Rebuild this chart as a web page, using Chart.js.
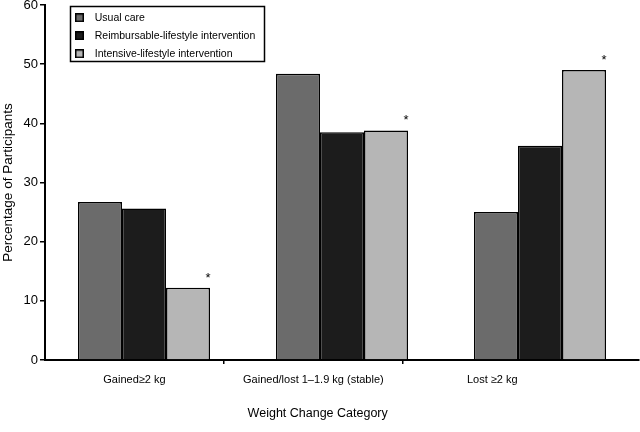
<!DOCTYPE html>
<html>
<head>
<meta charset="utf-8">
<script src="https://cdn.jsdelivr.net/npm/chart.js@4/dist/chart.umd.min.js"></script>
<style>
  html, body { margin: 0; padding: 0; background: #fff; }
  #wrap { width: 640px; height: 432px; position: relative; }
</style>
</head>
<body>
<div id="wrap"><canvas id="c" width="640" height="432"></canvas></div>
<script>
// ---- data ----
const categories = ['Gained\u22652 kg', 'Gained/lost 1\u20131.9 kg (stable)', 'Lost \u22652 kg'];
const seriesNames = ['Usual care', 'Reimbursable-lifestyle intervention', 'Intensive-lifestyle intervention'];
const seriesColors = ['#6b6b6b', '#1c1c1c', '#b6b6b6'];
const usualCare = [26.7, 48.4, 25.0];
const reimbursable = [25.6, 38.5, 36.2];
const intensive = [12.2, 38.8, 49.0];
const intensiveSignificant = [true, true, true];
const yTicks = [0, 10, 20, 30, 40, 50, 60];
const yLabel = 'Percentage of Participants';
const xLabel = 'Weight Change Category';

const FONT = 'Liberation Sans, Arial, Helvetica, sans-serif';

// small square swatches for the legend
function makeSwatch(color) {
  const c = document.createElement('canvas');
  c.width = 9; c.height = 9;
  const g = c.getContext('2d');
  g.fillStyle = '#000';
  g.fillRect(0, 0, 9, 9);
  g.fillStyle = color;
  g.fillRect(1.5, 1.5, 6, 6);
  return c;
}
const swatches = seriesColors.map(makeSwatch);

const legendPlacement = {
  id: 'legendPlacement',
  afterLayout(chart) {
    const lg = chart.legend;
    if (!lg) return;
    const dx = 62 - lg.left, dy = 5 - lg.top;
    lg.left += dx; lg.right += dx; lg.top += dy; lg.bottom += dy;
    (lg.legendHitBoxes || []).forEach(h => { h.left += dx; h.top += dy; });
  },
  afterDraw(chart) {
    const ctx = chart.ctx;
    ctx.save();
    ctx.strokeStyle = '#000';
    ctx.lineWidth = 1.5;
    ctx.strokeRect(70.5, 6.5, 194, 55);
    ctx.restore();
  }
};

const asterisks = {
  id: 'asterisks',
  afterDatasetsDraw(chart) {
    const meta = chart.getDatasetMeta(2);
    const ctx = chart.ctx;
    ctx.save();
    ctx.fillStyle = '#000';
    ctx.font = '13px ' + FONT;
    ctx.textAlign = 'center';
    ctx.textBaseline = 'alphabetic';
    meta.data.forEach((bar, i) => {
      if (!intensiveSignificant[i]) return;
      ctx.fillText('*', bar.x + bar.width / 2 - 2, bar.y - 6);
    });
    ctx.restore();
  }
};

const ds = (label, data, color) => ({
  label, data, xAxisID: 'x', yAxisID: 'y',
  backgroundColor: color, borderColor: '#000', borderWidth: 1.5,
  categoryPercentage: 0.667, barPercentage: 1.0
});

new Chart(document.getElementById('c'), {
  type: 'bar',
  data: {
    labels: categories,
    datasets: [
      ds(seriesNames[0], usualCare, seriesColors[0]),
      ds(seriesNames[1], reimbursable, seriesColors[1]),
      ds(seriesNames[2], intensive, seriesColors[2])
    ]
  },
  options: {
    responsive: false,
    animation: false,
    layout: { padding: { top: 5, right: 1, left: 0, bottom: 0 } },
    plugins: {
      tooltip: { enabled: false },
      legend: {
        position: 'chartArea',
        align: 'start',
        labels: {
          usePointStyle: true,
          pointStyleWidth: 20,
          boxHeight: 9,
          padding: 7.5,
          color: '#000',
          font: { family: FONT, size: 10.5 },
          generateLabels(chart) {
            return Chart.defaults.plugins.legend.labels.generateLabels(chart)
              .map((item, i) => Object.assign(item, { pointStyle: swatches[i] }));
          }
        }
      }
    },
    scales: {
      x: {
        type: 'category',
        display: false,
        offset: true
      },
      x2: {
        type: 'linear',
        position: 'bottom',
        offset: false,
        min: 0, max: 3.32,
        afterBuildTicks(scale) {
          scale.ticks = [0.5, 1, 1.5, 2, 2.5].map(v => ({ value: v }));
        },
        afterFit(scale) { scale.height = 72; },
        ticks: {
          autoSkip: false, maxRotation: 0, minRotation: 0,
          padding: 9, color: '#000',
          font: { family: FONT, size: 11 },
          callback: (v) => Number.isInteger(v) ? '' : categories[Math.floor(v)]
        },
        grid: {
          offset: false,
          drawOnChartArea: false, drawTicks: true, tickLength: 4,
          lineWidth: 1.5,
          color: (c) => (c.tick && Number.isInteger(c.tick.value)) ? '#000' : 'rgba(0,0,0,0)'
        },
        border: { display: true, color: '#000', width: 2 },
        title: {
          display: true,
          text: xLabel + '\u00a0'.repeat(14),
          color: '#000',
          font: { family: FONT, size: 12.5 },
          padding: { top: 0, bottom: 11 }
        }
      },
      y: {
        min: 0, max: 60,
        afterBuildTicks(scale) { scale.ticks = yTicks.map(v => ({ value: v })); },
        afterFit(scale) { scale.width = 45; scale.paddingTop = 0; scale.paddingBottom = 0; },
        ticks: {
          padding: 2, color: '#000',
          font: { family: FONT, size: 13 }
        },
        grid: { drawOnChartArea: false, drawTicks: true, tickLength: 5, color: '#000', lineWidth: 1.5 },
        border: { display: true, color: '#000', width: 2 },
        title: {
          display: true, text: yLabel, color: '#000',
          font: { family: FONT, size: 13.5 },
          padding: { top: 0, bottom: 0 }
        }
      }
    }
  },
  plugins: [legendPlacement, asterisks]
});
</script>
</body>
</html>
